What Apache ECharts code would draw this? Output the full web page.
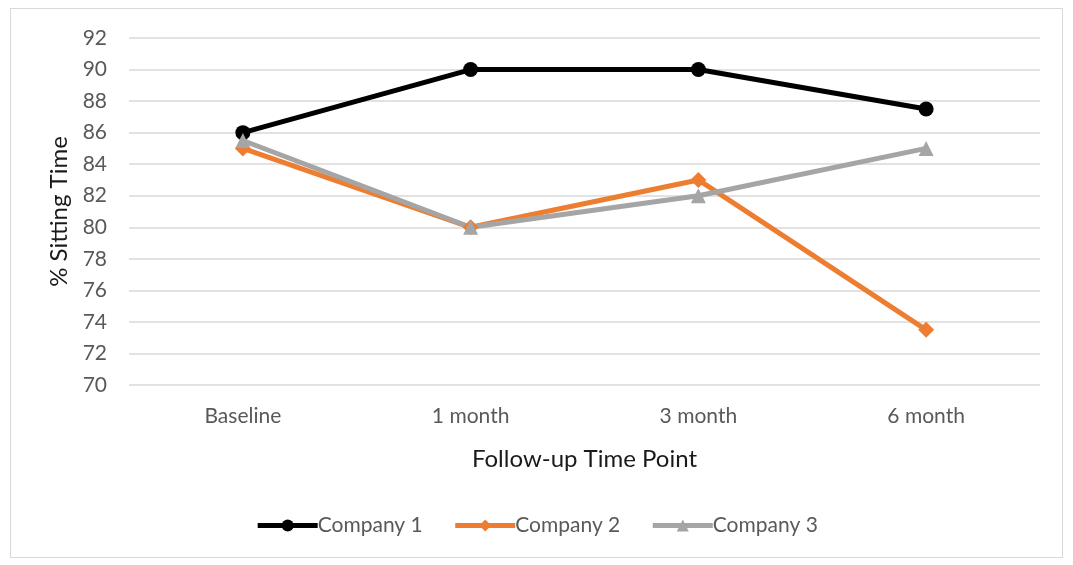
<!DOCTYPE html>
<html>
<head>
<meta charset="utf-8" />
<title>Sitting Time</title>
<script src="https://cdn.jsdelivr.net/npm/echarts@6/dist/echarts.min.js"></script>
<style>
  html, body { margin: 0; padding: 0; background: #fff; }
  #wrap { position: absolute; left: 10px; top: 8px; width: 1051px; height: 548px; border: 1px solid #d9d9d9; }
  #chart { width: 1073px; height: 565px; position: absolute; left: 0; top: 0; }
</style>
</head>
<body>
<div id="wrap"></div>
<div id="chart"></div>
<script type="text/javascript">
const categories = ['Baseline', '1 month', '3 month', '6 month'];
const company1 = [86, 90, 90, 87.5];
const company2 = [85, 80, 83, 73.5];
const company3 = [85.5, 80, 82, 85];

const myChart = echarts.init(document.getElementById('chart'));
const font = 'Lato, "Open Sans", sans-serif';

function line(name, data, color, symbol, size) {
    return {
        type: 'line',
        name: name,
        data: data,
        symbol: symbol,
        symbolSize: size,
        lineStyle: { color: color, width: 5 },
        itemStyle: { color: color },
        emphasis: { disabled: true },
        animation: false
    };
}

const option = {
    grid: { left: 129, right: 33, top: 38, bottom: 180 },
    legend: {
        bottom: 24,
        left: 'center',
        itemWidth: 60,
        itemHeight: 15,
        itemGap: 30,
        lineStyle: { width: 5 },
        textStyle: { fontFamily: font, fontSize: 21, color: '#595959', padding: [0, 0, 0, -5] },
        data: ['Company 1', 'Company 2', 'Company 3']
    },
    xAxis: {
        type: 'category',
        data: categories,
        name: 'Follow-up Time Point',
        nameLocation: 'middle',
        nameGap: 62,
        nameTextStyle: { fontFamily: font, fontSize: 24, color: '#1a1a1a' },
        axisLine: { show: false },
        axisTick: { show: false },
        axisLabel: { fontFamily: font, fontSize: 21, color: '#595959', margin: 21 }
    },
    yAxis: {
        type: 'value',
        min: 70,
        max: 92,
        interval: 2,
        name: '% Sitting Time',
        nameLocation: 'middle',
        nameGap: 54,
        nameTextStyle: { fontFamily: font, fontSize: 24, color: '#1a1a1a' },
        axisLabel: { fontFamily: font, fontSize: 21, color: '#595959', margin: 22 },
        splitLine: { lineStyle: { color: '#d9d9d9', width: 1.5 } }
    },
    series: [
        line('Company 1', company1, '#000000', 'circle', 15),
        line('Company 2', company2, '#ed7d31', 'diamond', 16),
        line('Company 3', company3, '#a5a5a5', 'triangle', 15)
    ]
};
myChart.setOption(option);
</script>
</body>
</html>
